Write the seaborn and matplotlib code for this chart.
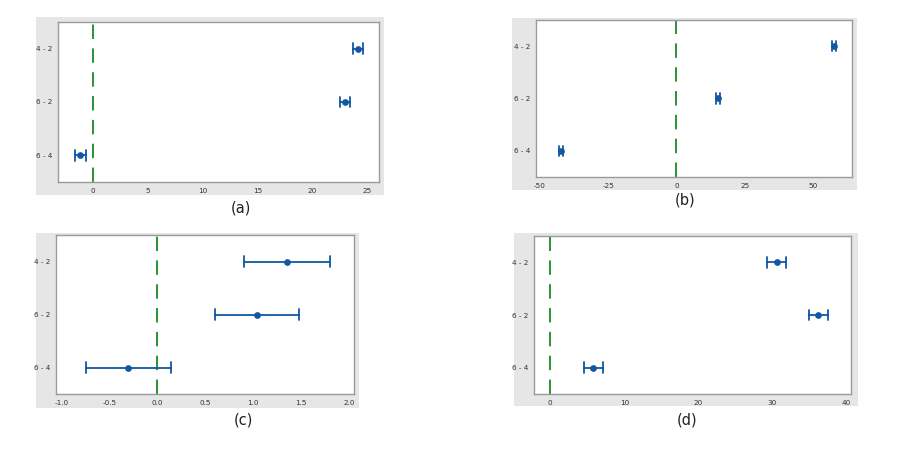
import numpy as np
import pandas as pd
import matplotlib
matplotlib.use("Agg")
import matplotlib.pyplot as plt
from matplotlib.patches import Rectangle
import seaborn as sns

sns.set_theme(style="white")
plt.rcParams['font.family'] = ['DejaVu Sans']

comparisons = ["4 - 2", "6 - 2", "6 - 4"]

# (a)
est_a = [24.2, 23.0, -1.15]
half_a = [0.46, 0.47, 0.47]
ticks_a = [0, 5, 10, 15, 20, 25]
# (b)
est_b = [57.6, 15.2, -42.1]
half_b = [0.8, 0.8, 0.75]
ticks_b = [-50, -25, 0, 25, 50]
# (c)
est_c = [1.35, 1.04, -0.30]
half_c = [0.445, 0.44, 0.445]
ticks_c = [-1.0, -0.5, 0.0, 0.5, 1.0, 1.5, 2.0]
tick_labels_c = ["-1.0", "-0.5", "0.0", "0.5", "1.0", "1.5", "2.0"]
# (d)
est_d = [30.6, 36.2, 5.8]
half_d = [1.28, 1.3, 1.28]
ticks_d = [0, 10, 20, 30, 40]

panel_labels = ["(a)", "(b)", "(c)", "(d)"]

W, H = 917, 461
fig = plt.figure(figsize=(W / 100, H / 100), dpi=100)
fig.patch.set_facecolor("white")


def fx(x):
    return x / W


def fy(y):
    return 1 - y / H


def add_bg(x0, y0, x1, y1):
    fig.patches.append(Rectangle((fx(x0), fy(y1)), fx(x1) - fx(x0), fy(y0) - fy(y1),
                                 transform=fig.transFigure, facecolor="#e6e6e6",
                                 edgecolor="none", zorder=-10))


def make_df(est, half):
    rows = []
    for c, e, h in zip(comparisons, est, half):
        rows.append((c, e - h))
        rows.append((c, e))
        rows.append((c, e + h))
    return pd.DataFrame(rows, columns=["comparison", "value"])


panels = [
    (est_a, half_a, ticks_a, [str(t) for t in ticks_a], (-3.2, 26.1),
     (36, 17, 384, 195), (58, 22, 379, 182), (241, 208)),
    (est_b, half_b, ticks_b, [str(t) for t in ticks_b], (-51.4, 64.3),
     (512, 18, 857, 190), (536, 20, 852, 177), (685, 200)),
    (est_c, half_c, ticks_c, tick_labels_c, (-1.055, 2.05),
     (36, 233, 359, 408), (56, 235, 354, 394), (243, 420)),
    (est_d, half_d, ticks_d, [str(t) for t in ticks_d], (-2.2, 40.6),
     (514, 233, 858, 406), (534, 236, 851, 394), (687, 420)),
]

blue = "#1257a3"
green = "#178a25"

for (est, half, ticks, tlabels, xlim, bg, axr, lab), plabel in zip(panels, panel_labels):
    add_bg(*bg)
    x0, y0, x1, y1 = axr
    ax = fig.add_axes([fx(x0), fy(y1), fx(x1) - fx(x0), fy(y0) - fy(y1)])
    ax.set_zorder(1)
    ax.set_facecolor("white")
    df = make_df(est, half)
    ax.axvline(0, color=green, lw=1.3, dashes=(8, 5.2), zorder=1)
    sns.pointplot(data=df, x="value", y="comparison", order=comparisons,
                  estimator="median", errorbar=("pi", 100), capsize=0.2,
                  linestyle="none", color=blue, marker="o", markersize=2.8,
                  err_kws={"linewidth": 1.3}, ax=ax, zorder=3)
    ax.set_xlim(*xlim)
    ax.set_ylim(2.5, -0.5)
    ax.set_xticks(ticks)
    ax.set_xticklabels(tlabels)
    ax.set_xlabel("")
    ax.set_ylabel("")
    ax.tick_params(axis="both", labelsize=5.2, colors="#333333", length=2,
                   width=0.6, pad=2, direction="out")
    ax.tick_params(axis="both", color="#999999")
    for s in ax.spines.values():
        s.set_color("#9a9a9a")
        s.set_linewidth(1.0)
    fig.text(fx(lab[0]), fy(lab[1]), plabel, ha="center", va="center",
             fontsize=10.5, color="#222222")

fig.savefig("out.png", dpi=100, facecolor="white")
